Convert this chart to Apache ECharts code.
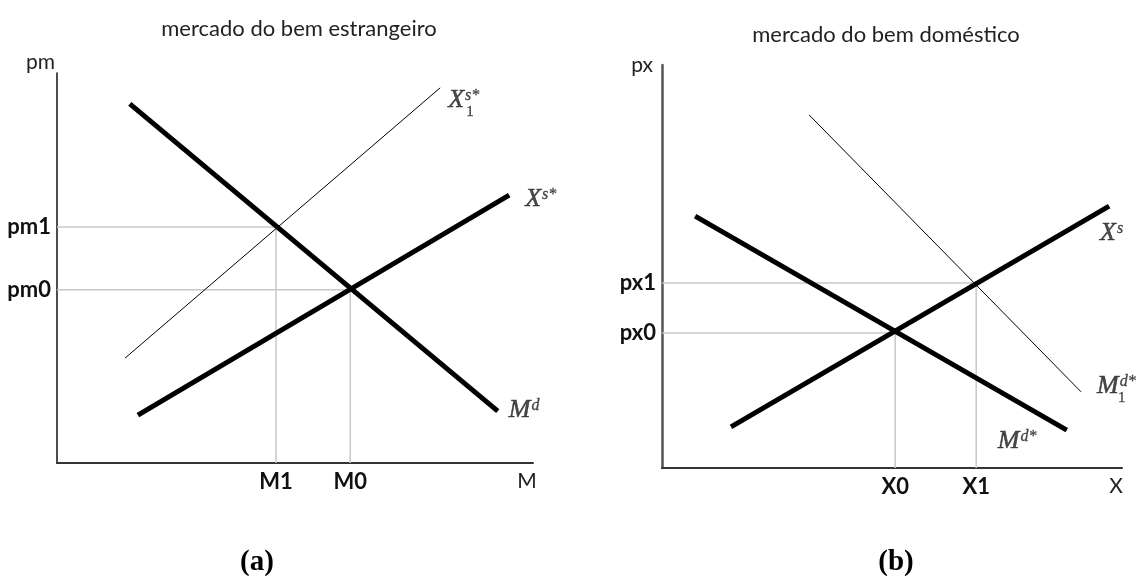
<!DOCTYPE html>
<html><head><meta charset="utf-8">
<script src="https://cdn.jsdelivr.net/npm/echarts@6/dist/echarts.min.js"></script>
<style>html,body{margin:0;padding:0;background:#fff}#c{width:1140px;height:582px}</style>
</head><body><div id="c"></div>
<script>
// ---- text ----
const panelTitles = ['mercado do bem estrangeiro', 'mercado do bem doméstico'];
const panelTags = ['(a)', '(b)'];
const axisNamesA = ['M', 'pm'];
const axisNamesB = ['X', 'px'];

// ---- panel (a): foreign good market (arbitrary units 0-100) ----
const xTicksA = [46.0, 61.6];
const xTickLabelsA = ['M1', 'M0'];
const yTicksA = [44.4, 60.5];
const yTickLabelsA = ['pm0', 'pm1'];
const MdA = [[15.3, 92.1], [92.6, 13.3]];        // M^d (thick)
const XsStarA = [[17.0, 12.3], [95.0, 68.7]];    // X^{s*} (thick)
const Xs1StarA = [[14.3, 26.9], [80.5, 96.2]];   // X_1^{s*} (thin)
const equilibriaA = [[46.0, 60.5], [61.6, 44.4]];

// ---- panel (b): domestic good market (arbitrary units 0-100) ----
const xTicksB = [50.7, 68.3];
const xTickLabelsB = ['X0', 'X1'];
const yTicksB = [33.5, 45.9];
const yTickLabelsB = ['px0', 'px1'];
const MdStarB = [[7.2, 62.5], [88.0, 9.4]];      // M^{d*} (thick)
const XsB = [[15.0, 10.2], [97.2, 65.0]];        // X^s (thick)
const Md1StarB = [[32.0, 87.6], [91.1, 18.9]];   // M_1^{d*} (thin)
const equilibriaB = [[50.7, 33.5], [68.3, 45.9]];

const SANS = 'Lato';
const SERIF = 'Liberation Serif';
const INK = '#1a1a1a';
const mathRich = {
  b: {fontFamily: SERIF, fontStyle: 'italic', fontSize: 26, color: INK, textBorderColor: INK, textBorderWidth: 0.5, verticalAlign: 'bottom'},
  s: {fontFamily: SERIF, fontStyle: 'italic', fontSize: 16, color: INK, textBorderColor: INK, textBorderWidth: 0.3, verticalAlign: 'top', padding: [1, 0, 0, 1]},
  n: {fontFamily: SERIF, fontSize: 15, color: INK, textBorderColor: INK, textBorderWidth: 0.3}
};

function tickMap(vals, labels) {
  const m = {};
  vals.forEach((v, i) => { m[v] = labels[i]; });
  return v => (m[v] !== undefined ? m[v] : '');
}
function xAxisCfg(idx, ticks, labels, name, axisColor) {
  return {
    type: 'value', gridIndex: idx, min: 0, max: 100,
    name: name, nameLocation: 'end', nameGap: -6,
    nameTextStyle: {fontFamily: SANS, fontSize: 21, color: '#222', align: 'center', verticalAlign: 'top', padding: [8, 0, 0, 0]},
    axisLine: {show: true, lineStyle: {color: axisColor, width: 2}},
    axisTick: {show: false},
    splitLine: {show: false},
    axisLabel: {customValues: ticks, formatter: tickMap(ticks, labels), margin: 8,
      fontFamily: SANS, fontWeight: 'bold', fontSize: 22, color: '#111'}
  };
}
function yAxisCfg(idx, ticks, labels, name, axisColor, axisWidth, nameGap, namePadRight) {
  return {
    type: 'value', gridIndex: idx, min: 0, max: 100,
    name: name, nameLocation: 'end', nameGap: nameGap,
    nameTextStyle: {fontFamily: SANS, fontSize: 21, color: '#222', align: 'right', verticalAlign: 'middle', padding: [0, namePadRight, 0, 0]},
    axisLine: {show: true, lineStyle: {color: axisColor, width: axisWidth}},
    axisTick: {show: false},
    splitLine: {show: false},
    axisLabel: {customValues: ticks, formatter: tickMap(ticks, labels), margin: 6,
      fontFamily: SANS, fontWeight: 'bold', fontSize: 22, color: '#111'}
  };
}
function curve(idx, data, width, name) {
  return {type: 'line', name: name, xAxisIndex: idx, yAxisIndex: idx, data: data,
    showSymbol: false, symbol: 'none', silent: true, z: 5,
    lineStyle: {color: '#000', width: width, cap: 'butt'}};
}
function guide(idx, pt) {
  return {type: 'line', xAxisIndex: idx, yAxisIndex: idx,
    data: [[0, pt[1]], [pt[0], pt[1]], [pt[0], 0]],
    showSymbol: false, symbol: 'none', silent: true, z: 2,
    lineStyle: {color: '#c8c8c8', width: 1.5}};
}
function lbl(pt, fmt, dx, dy) {
  return {value: pt, label: {show: true, position: 'inside', align: 'left', verticalAlign: 'middle',
    offset: [dx, dy], formatter: fmt, rich: mathRich}};
}
const last = a => a[a.length - 1];

const labelsA = [
  lbl(last(Xs1StarA), '{b|X}{s|s*}', 8, 12),
  lbl(last(Xs1StarA), '{n|1}', 26, 24),
  lbl(last(XsStarA), '{b|X}{s|s*}', 16, 4),
  lbl(last(MdA), '{b|M}{s|d}', 11, -1)
];
const labelsB = [
  lbl(last(XsB), '{b|X}{s|s}', -9, 27),
  lbl(last(Md1StarB), '{b|M}{s|d*}', 16, -6),
  lbl(last(Md1StarB), '{n|1}', 37, 6),
  lbl(last(MdStarB), '{b|M}{s|d*}', -69, 11)
];

const chart = echarts.init(document.getElementById('c'), null, {renderer: 'canvas'});
chart.setOption({
  animation: false,
  backgroundColor: '#fff',
  title: [
    {text: panelTitles[0], left: 294, top: 13, textAlign: 'center',
      textStyle: {fontFamily: SANS, fontWeight: 'normal', fontSize: 22, color: '#222'}},
    {text: panelTitles[1], left: 881, top: 19, textAlign: 'center',
      textStyle: {fontFamily: SANS, fontWeight: 'normal', fontSize: 22, color: '#222'}},
    {text: panelTags[0], left: 252, top: 543, textAlign: 'center',
      textStyle: {fontFamily: SERIF, fontWeight: 'bold', fontSize: 29, color: '#000'}},
    {text: panelTags[1], left: 891, top: 543, textAlign: 'center',
      textStyle: {fontFamily: SERIF, fontWeight: 'bold', fontSize: 29, color: '#000'}}
  ],
  grid: [
    {left: 57, top: 73, width: 476, height: 390},
    {left: 662, top: 65, width: 460, height: 403}
  ],
  xAxis: [
    xAxisCfg(0, xTicksA, xTickLabelsA, axisNamesA[0], '#333'),
    xAxisCfg(1, xTicksB, xTickLabelsB, axisNamesB[0], '#333')
  ],
  yAxis: [
    yAxisCfg(0, yTicksA, yTickLabelsA, axisNamesA[1], '#111', 1.5, 11, 2),
    yAxisCfg(1, yTicksB, yTickLabelsB, axisNamesB[1], '#555', 2.5, 0, 9)
  ],
  series: [
    ...equilibriaA.map(p => guide(0, p)),
    ...equilibriaB.map(p => guide(1, p)),
    curve(0, MdA, 5, 'Md'),
    curve(0, XsStarA, 5, 'Xs*'),
    curve(0, Xs1StarA, 1, 'X1s*'),
    curve(1, MdStarB, 5, 'Md*'),
    curve(1, XsB, 5, 'Xs'),
    curve(1, Md1StarB, 1, 'M1d*'),
    {type: 'scatter', xAxisIndex: 0, yAxisIndex: 0, symbolSize: 0, silent: true, z: 6, data: labelsA},
    {type: 'scatter', xAxisIndex: 1, yAxisIndex: 1, symbolSize: 0, silent: true, z: 6, data: labelsB}
  ]
});
</script></body></html>
